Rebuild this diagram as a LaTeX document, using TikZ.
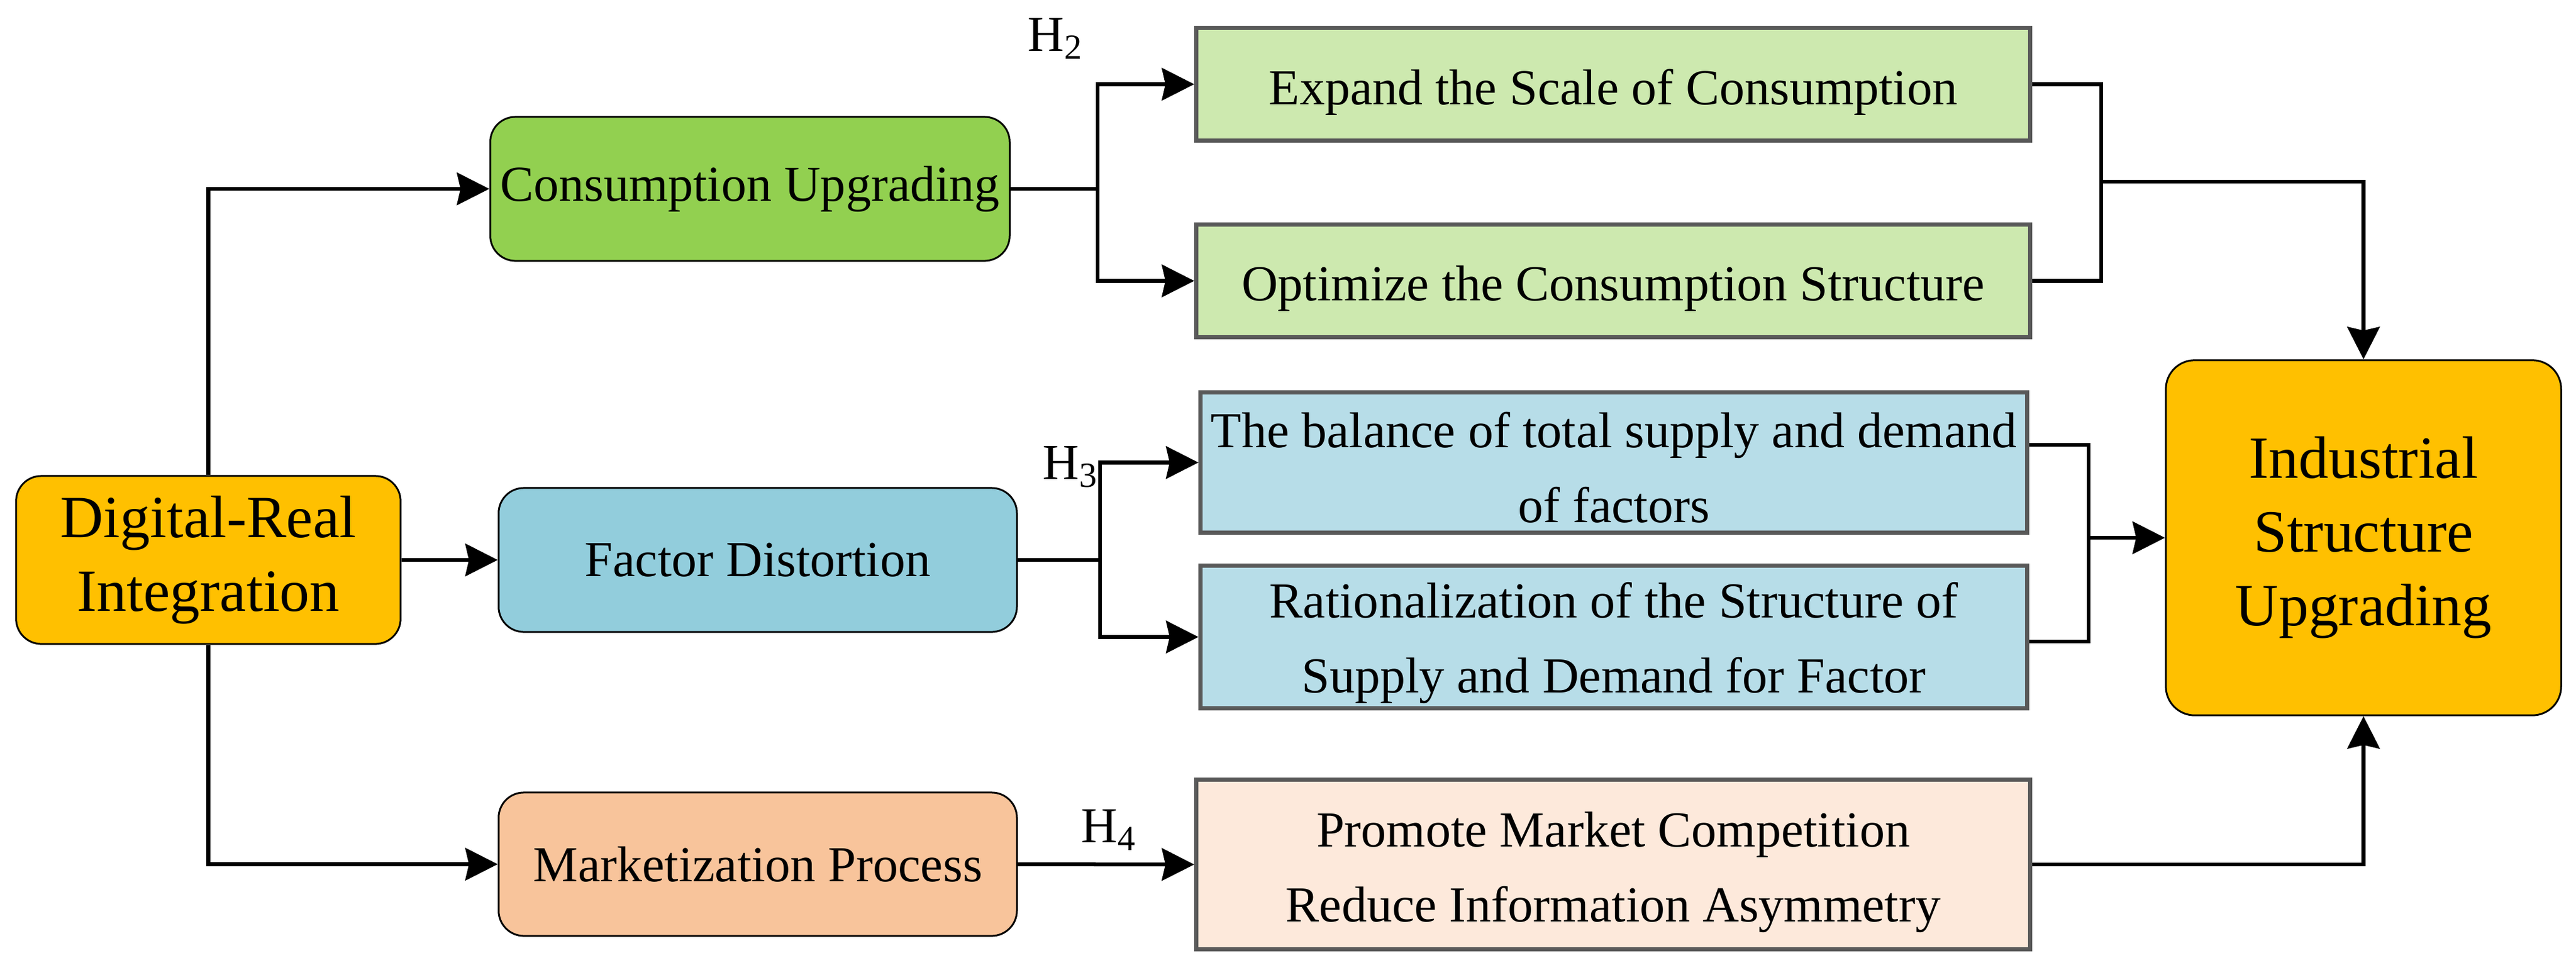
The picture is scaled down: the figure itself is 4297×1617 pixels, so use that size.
\documentclass[tikz,border=0pt]{standalone}
\usepackage{fontspec}
\setmainfont{Liberation Serif}
\usetikzlibrary{arrows.meta}
\definecolor{gold}{HTML}{FFC000}
\definecolor{cugreen}{HTML}{92D050}
\definecolor{fdblue}{HTML}{92CDDC}
\definecolor{mppeach}{HTML}{F8C49B}
\definecolor{lgreen}{HTML}{CDE9AF}
\definecolor{lblue}{HTML}{B7DDE8}
\definecolor{lpeach}{HTML}{FDE9DB}
\definecolor{bordergray}{HTML}{595959}
\tikzset{
  roundbox/.style={draw=black, line width=0.03cm, rounded corners=0.42cm, inner sep=0pt, align=center,
    font=\fontsize{23.9}{35.5}\selectfont},
  bigbox/.style={roundbox, fill=gold, font=\fontsize{28.4}{35}\selectfont},
  graybox/.style={draw=bordergray, line width=0.07cm, inner sep=0pt, minimum width=13.9cm},
  boxtext/.style={inner sep=0pt, align=center, font=\fontsize{23.9}{35.5}\selectfont},
  ln/.style={line width=0.065cm},
  arr/.style={ln, -{Stealth[length=0.54cm,width=0.54cm,inset=0.06cm]}},
  hlabel/.style={inner sep=0pt, anchor=base west, font=\fontsize{23.9}{28}\selectfont}
}
\begin{document}
\begin{tikzpicture}[x=0.01cm, y=-0.01cm]
\useasboundingbox (0,0) rectangle (4297,1617);
% main nodes
\node[bigbox, minimum width=6.41cm, minimum height=2.80cm] (DRI) at (347.5,934) {Digital-Real\\Integration};
\node[roundbox, fill=cugreen, minimum width=8.66cm, minimum height=2.40cm] (CU) at (1251,315) {Consumption Upgrading};
\node[roundbox, fill=fdblue, minimum width=8.64cm, minimum height=2.40cm] (FD) at (1264,934) {Factor Distortion};
\node[roundbox, fill=mppeach, minimum width=8.64cm, minimum height=2.39cm] (MP) at (1264,1441.5) {Marketization Process};
\node[graybox, fill=lgreen, minimum height=1.87cm] (EX) at (2691,140.5) {};
\node[graybox, fill=lgreen, minimum height=1.87cm] (OP) at (2691,468.5) {};
\node[graybox, fill=lblue, minimum width=13.78cm, minimum height=2.33cm] (BA) at (2692,771.5) {};
\node[graybox, fill=lblue, minimum width=13.78cm, minimum height=2.37cm] (RA) at (2692,1062.5) {};
\node[graybox, fill=lpeach, minimum height=2.82cm] (PR) at (2691,1442) {};
\node[boxtext] (EXt) at ([yshift=-0.13cm]EX.center) {Expand the Scale of Consumption};
\node[boxtext] (OPt) at ([yshift=-0.13cm]OP.center) {Optimize the Consumption Structure};
\node[boxtext] (BAt) at ([yshift=-0.08cm]BA.center) {The balance of total supply and demand\\of factors};
\node[boxtext] (RAt) at ([yshift=-0.1cm]RA.center) {Rationalization of the Structure of\\Supply and Demand for Factor};
\node[boxtext] (PRt) at ([yshift=-0.13cm]PR.center) {Promote Market Competition\\Reduce Information Asymmetry};
\node[bigbox, rounded corners=0.48cm, minimum width=6.59cm, minimum height=5.92cm] (ISU) at (3942.5,897) {Industrial\\Structure\\Upgrading};
% labels
\node[hlabel] (H2) at (1714,85) {H\textsubscript{2}};
\node[hlabel] (H3) at (1739,799) {H\textsubscript{3}};
\node[hlabel] (H4) at (1803,1405) {H\textsubscript{4}};
% split / merge points
\coordinate (s2) at (1831,315);
\coordinate (s3) at (1835,934);
\coordinate (m2) at (3505,303);
\coordinate (m3) at (3484,897);
% connectors from DRI
\draw[arr] (DRI.north) |- (CU.west);
\draw[arr] (DRI.east) -- (FD.west);
\draw[arr] (DRI.south) |- (MP.west);
% H2 branch
\draw[ln] (CU.east) -- (s2);
\draw[arr] (s2) |- (EX.west);
\draw[arr] (s2) |- (OP.west);
% H3 branch
\draw[ln] (FD.east) -- (s3);
\draw[arr] (s3) |- (BA.west);
\draw[arr] (s3) |- (RA.west);
% H4
\draw[arr] (MP.east) -- (PR.west);
% merges
\draw[ln] (EX.east) -| (m2);
\draw[ln] (OP.east) -| (m2);
\draw[arr] (m2) -| (ISU.north);
\draw[ln] ([yshift=0.295cm]BA.east) -| (m3);
\draw[ln] ([yshift=-0.075cm]RA.east) -| (m3);
\draw[arr] (m3) -- (ISU.west);
\draw[arr] (PR.east) -| (ISU.south);
\end{tikzpicture}
\end{document}
